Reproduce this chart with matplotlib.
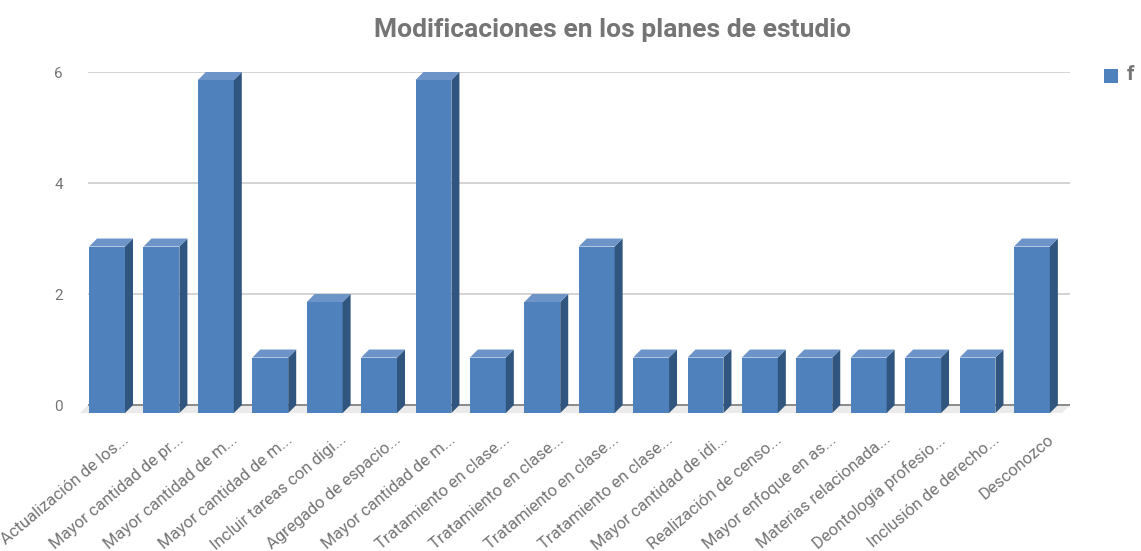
import matplotlib.pyplot as plt
from matplotlib.patches import Polygon
from matplotlib.transforms import ScaledTranslation

plt.rcParams['font.family'] = ['Roboto', 'DejaVu Sans']

categories = [
    'Actualización de los...', 'Mayor cantidad de pr...', 'Mayor cantidad de m...',
    'Mayor cantidad de m...', 'Incluir tareas con digi...', 'Agregado de espacio...',
    'Mayor cantidad de m...', 'Tratamiento en clase...', 'Tratamiento en clase...',
    'Tratamiento en clase...', 'Tratamiento en clase...', 'Mayor cantidad de idi...',
    'Realización de censo...', 'Mayor enfoque en as...', 'Materias relacionada...',
    'Deontología profesio...', 'Inclusión de derecho...', 'Desconozco',
]
values = [3, 3, 6, 1, 2, 1, 6, 1, 2, 3, 1, 1, 1, 1, 1, 1, 1, 3]
y_ticks = [0, 2, 4, 6]
series_name = 'f'

FRONT = '#4f81bd'
SIDE = '#30557f'
TOP = '#6d94c9'
GRAY = '#757575'

fig = plt.figure(figsize=(11.41, 5.51), dpi=100)
ax = fig.add_axes([88 / 1141, 1 - 421.7 / 551, (1070 - 88) / 1141, 349.7 / 551])

xmin, xmax = -0.35, 17.70
ymin, ymax = -0.3, 6.0
ax.set_xlim(xmin, xmax)
ax.set_ylim(ymin, ymax)

# depth of the fake 3d effect, 8 px each way, in data units
px_x = (xmax - xmin) / (1070 - 88)
px_y = (ymax - ymin) / 349.7
dx, dy = 8 * px_x, 8 * px_y
w = 0.66

for yt in y_ticks[1:]:
    ax.axhline(yt, color='#cccccc', lw=1.2, zorder=0)

# floor
ax.add_patch(Polygon([(xmin, 0), (xmax, 0), (xmax - dx, -dy), (xmin - dx, -dy)],
                     closed=True, facecolor='#ebebeb', edgecolor='none', zorder=0.5,
                     clip_on=False))
ax.axhline(0, color='#8a8a8a', lw=1.4, zorder=0.6)

xs = list(range(len(values)))
ax.bar(xs, values, width=w, bottom=-dy, color=FRONT, zorder=3)
for x, v in zip(xs, values):
    r = x + w / 2
    l = x - w / 2
    ax.add_patch(Polygon([(r, -dy), (r + dx, 0), (r + dx, v), (r, v - dy)],
                         closed=True, facecolor=SIDE, edgecolor='none', zorder=3))
    ax.add_patch(Polygon([(l, v - dy), (l + dx, v), (r + dx, v), (r, v - dy)],
                         closed=True, facecolor=TOP, edgecolor='none', zorder=3))

ax.set_yticks(y_ticks)
ax.set_yticklabels([str(t) for t in y_ticks], color=GRAY, fontsize=11)
ax.tick_params(axis='y', length=0, pad=18)
ax.set_xticks(xs)
ax.set_xticklabels(categories, rotation=40, ha='right', rotation_mode='anchor',
                   color=GRAY, fontsize=12)
ax.tick_params(axis='x', length=0, pad=5)
offset = ScaledTranslation(15 / 100, -3 / 100, fig.dpi_scale_trans)
for lbl in ax.get_xticklabels():
    lbl.set_transform(lbl.get_transform() + offset)

for s in ax.spines.values():
    s.set_visible(False)

fig.text(613 / 1141, 1 - 30 / 551, 'Modificaciones en los planes de estudio',
         ha='center', va='center', fontsize=19, fontweight='bold', color=GRAY)

# legend
fig.patches.append(plt.Rectangle((1104 / 1141, 1 - 83 / 551), 14 / 1141, 14 / 551,
                                 transform=fig.transFigure, facecolor=FRONT,
                                 edgecolor='none'))
fig.text(1127 / 1141, 1 - 75 / 551, series_name, ha='left', va='center',
         fontsize=15, fontweight='bold', color=GRAY)

fig.savefig('out.png', dpi=100)
